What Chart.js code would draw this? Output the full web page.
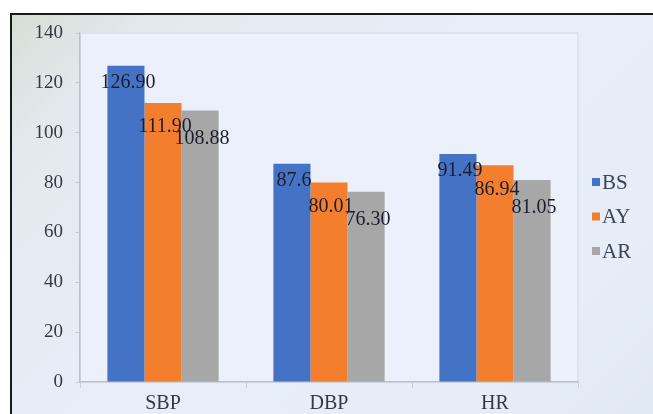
<!DOCTYPE html>
<html>
<head>
<meta charset="utf-8">
<script src="https://cdn.jsdelivr.net/npm/chart.js@4.4.1/dist/chart.umd.min.js"></script>
<style>
  html, body { margin: 0; padding: 0; background: #fff; }
  body { width: 653px; height: 414px; position: relative; overflow: hidden; }
  #frame {
    position: absolute; left: 10px; top: 13px; width: 700px; height: 500px;
    border-left: 2px solid #1a1a1a; border-top: 2px solid #1a1a1a;
    background: linear-gradient(135deg, #d6ded6 0%, #e3e9ee 12%, #e8eef8 40%, #e6edf8 70%, #dde5f0 100%);
  }
  #wrap { position: absolute; left: 0; top: 0; width: 653px; height: 414px; }
</style>
</head>
<body>
<div id="frame"></div>
<div id="wrap"><canvas id="chart"></canvas></div>
<script>
const categories = ['SBP', 'DBP', 'HR'];
const seriesNames = ['BS', 'AY', 'AR'];
// values as printed on the bars
const bsValues = ['126.90', '87.6', '91.49'];
const ayValues = ['111.90', '80.01', '86.94'];
const arValues = ['108.88', '76.30', '81.05'];
const yTicks = [0, 20, 40, 60, 80, 100, 120, 140];

const colors = ['#4472c4', '#f27e2e', '#a6a7a6'];
const labelDy = [17, 24, 28];

const serif = "'Liberation Serif', 'Times New Roman', serif";

const datasets = [bsValues, ayValues, arValues].map((vals, i) => ({
    label: seriesNames[i],
    data: vals.map(Number),
    shown: vals,
    backgroundColor: colors[i],
    borderWidth: 0,
    labelDy: labelDy[i]
}));

const plotBg = {
    id: 'plotBg',
    beforeDraw(chart) {
        const { ctx, chartArea: a } = chart;
        ctx.save();
        ctx.fillStyle = '#ebf0fa';
        ctx.fillRect(a.left, a.top, a.right - a.left, a.bottom - a.top);
        ctx.strokeStyle = '#dce3ec';
        ctx.lineWidth = 2;
        ctx.strokeRect(a.left, a.top, a.right - a.left, a.bottom - a.top);
        ctx.restore();
    }
};

const barLabels = {
    id: 'barLabels',
    afterDatasetsDraw(chart) {
        const ctx = chart.ctx;
        ctx.save();
        ctx.font = '20px ' + serif;
        ctx.fillStyle = '#1d1d2e';
        ctx.textAlign = 'center';
        ctx.textBaseline = 'middle';
        chart.data.datasets.forEach((ds, i) => {
            chart.getDatasetMeta(i).data.forEach((bar, j) => {
                ctx.fillText(ds.shown[j], bar.x + 2, bar.y + ds.labelDy);
            });
        });
        ctx.restore();
    }
};

const sideLegend = {
    id: 'sideLegend',
    afterDraw(chart) {
        const ctx = chart.ctx;
        const x = chart.chartArea.right + 14;
        const y0 = 182, step = 34.5;
        ctx.save();
        ctx.font = '21px ' + serif;
        ctx.textBaseline = 'middle';
        chart.data.datasets.forEach((ds, i) => {
            const y = y0 + i * step;
            ctx.fillStyle = ds.backgroundColor;
            ctx.fillRect(x, y - 4, 8, 8);
            ctx.fillStyle = '#3a4656';
            ctx.fillText(ds.label, x + 10, y + 1);
        });
        ctx.restore();
    }
};

new Chart(document.getElementById('chart'), {
    type: 'bar',
    data: { labels: categories, datasets },
    options: {
        responsive: true,
        maintainAspectRatio: false,
        animation: false,
        layout: { padding: { left: 0, top: 33, right: 75, bottom: 0 } },
        datasets: { bar: { categoryPercentage: 0.67, barPercentage: 1.0 } },
        plugins: { legend: { display: false }, tooltip: { enabled: false } },
        scales: {
            x: {
                afterFit(s) { s.height = 32; },
                grid: { drawOnChartArea: false, tickLength: 6, color: '#c9ced6', offset: true },
                border: { color: '#bcc2ca', width: 1.5 },
                ticks: { color: '#333a44', padding: 4, font: { family: serif, size: 20 } }
            },
            y: {
                min: 0,
                max: 140,
                afterFit(s) { s.width = 80; },
                afterBuildTicks(s) { s.ticks = yTicks.map(v => ({ value: v })); },
                grid: { drawOnChartArea: false, tickLength: 5, color: '#c9ced6' },
                border: { color: '#bcc2ca', width: 1.5 },
                ticks: { color: '#333a44', padding: 12, font: { family: serif, size: 19 } }
            }
        }
    },
    plugins: [plotBg, barLabels, sideLegend]
});
</script>
</body>
</html>
